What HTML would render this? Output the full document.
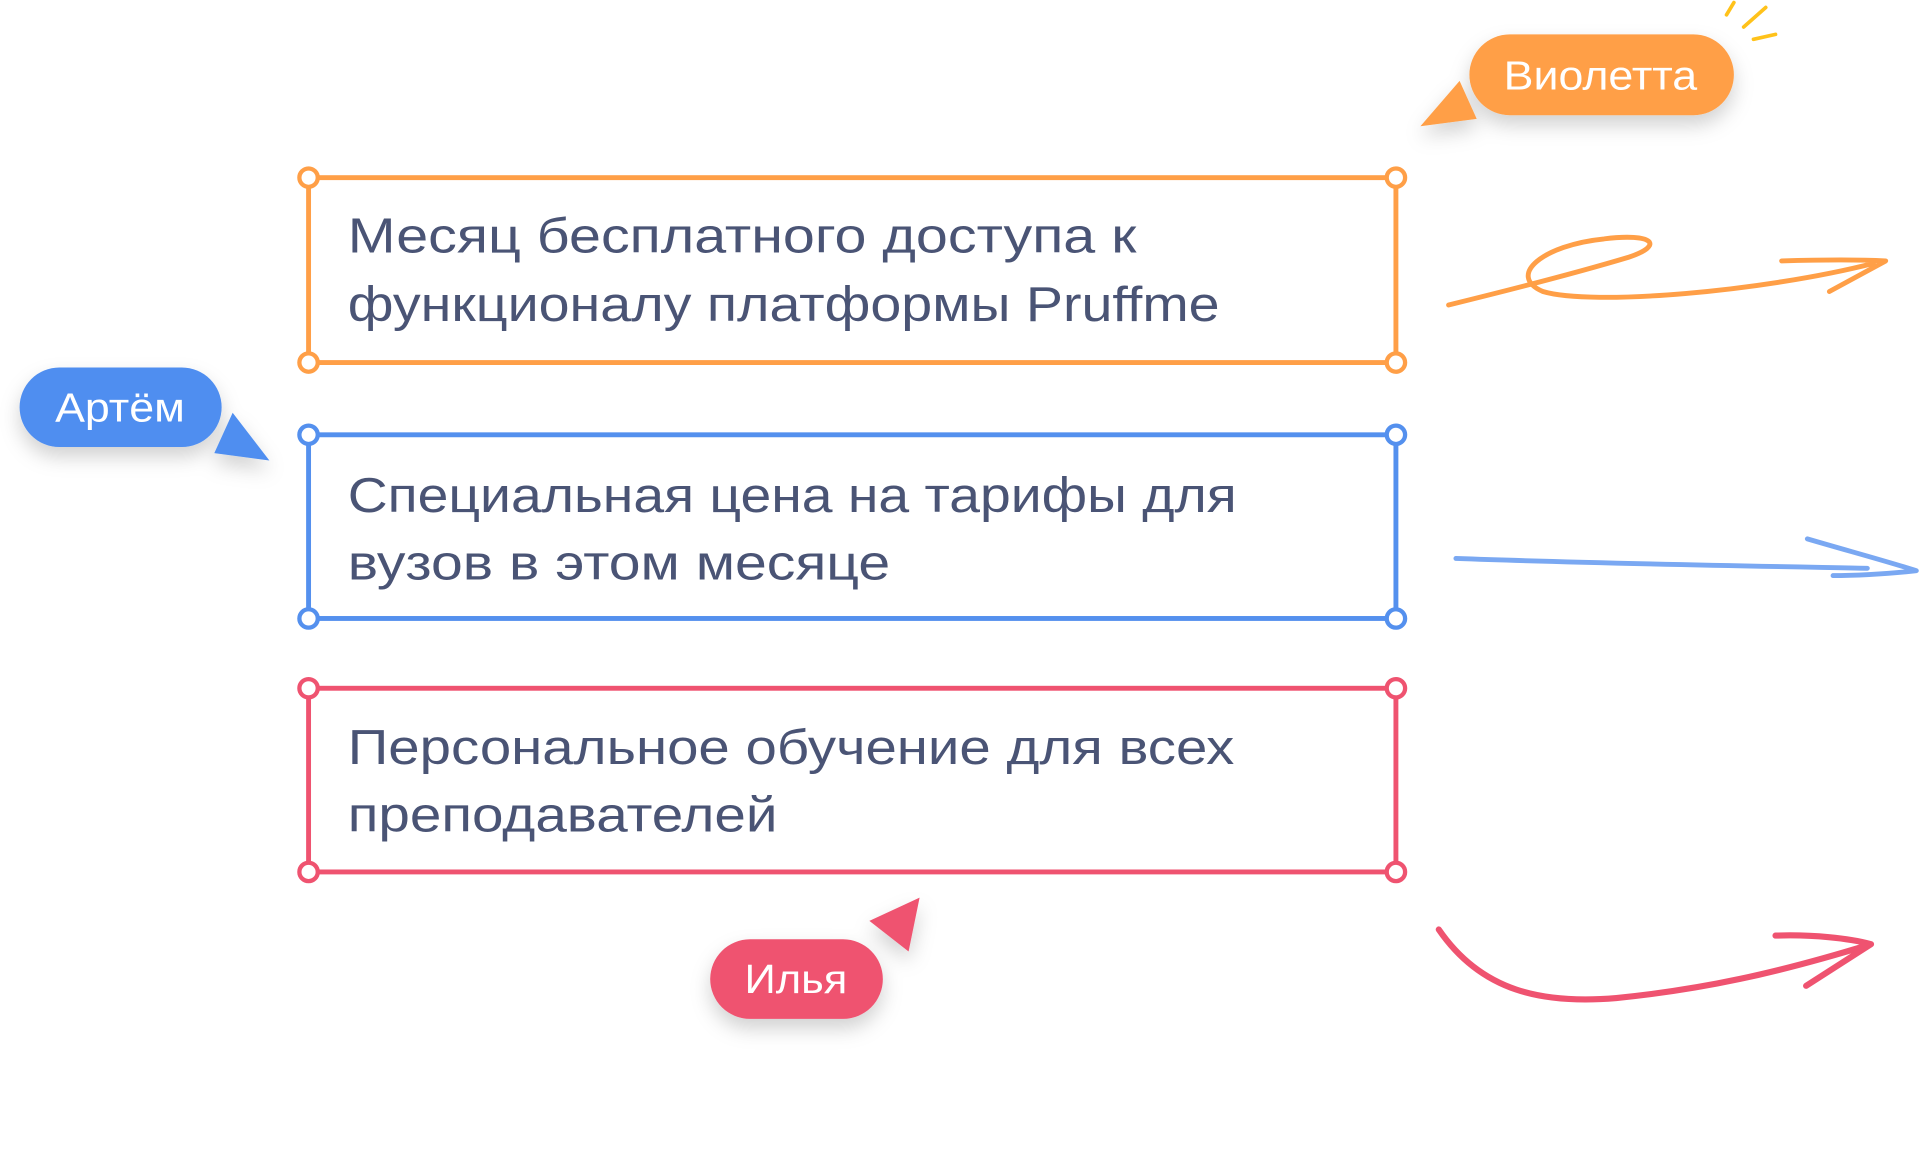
<!DOCTYPE html>
<html><head><meta charset="utf-8"><style>
html,body{margin:0;padding:0;background:#fff;width:1920px;height:1150px;overflow:hidden}
svg{display:block}
text{font-family:"Liberation Sans",sans-serif}
</style></head><body>
<svg width="1920" height="1150" viewBox="0 0 1568 939" xmlns="http://www.w3.org/2000/svg">
<defs>
<filter id="sh" x="-30%" y="-50%" width="160%" height="220%"><feDropShadow dx="0" dy="8" stdDeviation="8" flood-opacity="0.18"/></filter>
</defs>
<g fill="none" stroke-width="4">
<rect x="252" y="145" width="888" height="151" stroke="#ff9f47"/>
<rect x="252" y="355" width="888" height="150" stroke="#5490ee"/>
<rect x="252" y="562" width="888" height="150" stroke="#ef5370"/>
</g>
<g fill="#fff" stroke-width="3.5">
<g stroke="#ff9f47"><circle cx="252" cy="145" r="7.5"/><circle cx="1140" cy="145" r="7.5"/><circle cx="252" cy="296" r="7.5"/><circle cx="1140" cy="296" r="7.5"/></g>
<g stroke="#5490ee"><circle cx="252" cy="355" r="7.5"/><circle cx="1140" cy="355" r="7.5"/><circle cx="252" cy="505" r="7.5"/><circle cx="1140" cy="505" r="7.5"/></g>
<g stroke="#ef5370"><circle cx="252" cy="562" r="7.5"/><circle cx="1140" cy="562" r="7.5"/><circle cx="252" cy="712" r="7.5"/><circle cx="1140" cy="712" r="7.5"/></g>
</g>
<g fill="#4a5475" font-size="40">
<text x="284" y="206" textLength="644" lengthAdjust="spacingAndGlyphs">Месяц бесплатного доступа к</text>
<text x="284" y="262" textLength="712" lengthAdjust="spacingAndGlyphs">функционалу платформы Pruffme</text>
<text x="284" y="418" textLength="726" lengthAdjust="spacingAndGlyphs">Специальная цена на тарифы для</text>
<text x="284" y="473" textLength="443" lengthAdjust="spacingAndGlyphs">вузов в этом месяце</text>
<text x="284" y="624" textLength="724" lengthAdjust="spacingAndGlyphs">Персональное обучение для всех</text>
<text x="284" y="679" textLength="351" lengthAdjust="spacingAndGlyphs">преподавателей</text>
</g>
<g filter="url(#sh)">
<path d="M1192,66 L1160,103 L1206,97 Z" fill="#ff9f47"/>
<rect x="1200" y="28" width="216" height="66" rx="33" fill="#ff9f47"/>
<path d="M190,337 L220,376 L175,370 Z" fill="#4f8ef0"/>
<rect x="16" y="300" width="165" height="65" rx="32.5" fill="#4f8ef0"/>
<path d="M751,733 L710,752 L742,777 Z" fill="#ef5370"/>
<rect x="580" y="767" width="141" height="65" rx="32.5" fill="#ef5370"/>
</g>
<g fill="#fff" font-size="33">
<text x="1228" y="73" textLength="158" lengthAdjust="spacingAndGlyphs">Виолетта</text>
<text x="45" y="344" textLength="106" lengthAdjust="spacingAndGlyphs">Артём</text>
<text x="608" y="811" textLength="84" lengthAdjust="spacingAndGlyphs">Илья</text>
</g>
<g stroke="#ffc21a" stroke-width="3" stroke-linecap="round">
<line x1="1410" y1="12" x2="1416" y2="2"/>
<line x1="1424" y1="22" x2="1442" y2="6"/>
<line x1="1432" y1="32" x2="1450" y2="28"/>
</g>
<g fill="none" stroke-width="4" stroke-linecap="round" stroke-linejoin="round">
<path d="M1183,249 C1240,235 1290,222 1330,210 C1360,200 1350,190 1310,195 C1260,200 1230,225 1260,238 C1300,250 1440,238 1530,215 M1455,213 C1490,212 1520,212 1540,213 L1494,238" stroke="#ff9f47"/>
<path d="M1189,456 C1300,460 1420,462 1525,464 M1476,440 C1510,450 1540,458 1565,466 C1540,469 1510,470 1497,470" stroke="#7aa8f2"/>
<path d="M1175,759 C1210,810 1260,820 1320,815 C1390,808 1450,795 1528,771 M1450,764 C1480,763 1510,766 1528,771 L1475,805" stroke="#ef5370" stroke-width="5"/>
</g>
</svg>
</body></html>
